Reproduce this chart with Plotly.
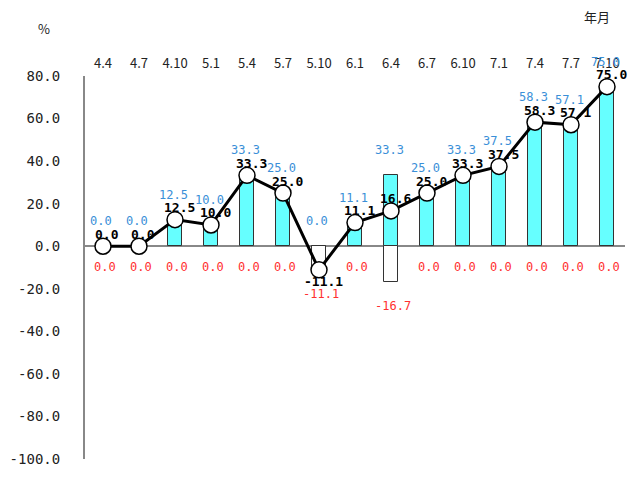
import plotly.graph_objects as go

categories = ["4.4", "4.7", "4.10", "5.1", "5.4", "5.7", "5.10", "6.1", "6.4", "6.7", "6.10", "7.1", "7.4", "7.7", "7.10"]
positive_vals = [0.0, 0.0, 12.5, 10.0, 33.3, 25.0, 0.0, 11.1, 33.3, 25.0, 33.3, 37.5, 58.3, 57.1, 75.0]
negative_vals = [0.0, 0.0, 0.0, 0.0, 0.0, 0.0, -11.1, 0.0, -16.7, 0.0, 0.0, 0.0, 0.0, 0.0, 0.0]
line_vals = [0.0, 0.0, 12.5, 10.0, 33.3, 25.0, -11.1, 11.1, 16.6, 25.0, 33.3, 37.5, 58.3, 57.1, 75.0]
y_ticks = [80, 60, 40, 20, 0, -20, -40, -60, -80, -100]

x = list(range(len(categories)))
FONT = "Noto Sans CJK JP"
MONO = "DejaVu Sans Mono"

fig = go.Figure()
fig.add_trace(go.Bar(x=x, y=positive_vals, width=0.4,
                     marker=dict(color="#66ffff", line=dict(color="#333333", width=1))))
fig.add_trace(go.Bar(x=x, y=negative_vals, width=0.4,
                     marker=dict(color="#ffffff", line=dict(color="#333333", width=1))))
fig.add_trace(go.Scatter(x=x, y=line_vals, mode="lines+markers",
                         line=dict(color="#000000", width=3),
                         marker=dict(size=16, color="#ffffff", line=dict(color="#000000", width=1.5))))

ann = []
for i in x:
    ann.append(dict(x=i, y=positive_vals[i], text=f"{positive_vals[i]:.1f}", showarrow=False,
                    yshift=25, xshift=-2, font=dict(color="#3a8fd8", size=12, family=MONO)))
    ann.append(dict(x=i, y=negative_vals[i], text=f"{negative_vals[i]:.1f}", showarrow=False,
                    yshift=-21 if negative_vals[i] == 0 else -24, xshift=2,
                    font=dict(color="#ff3030", size=12, family=MONO)))
    v = line_vals[i]
    ann.append(dict(x=i, y=v, text=f"<b>{v:.1f}</b>", showarrow=False,
                    yshift=12 if v >= 0 else -12, xshift=4,
                    font=dict(color="#000000", size=13, family=MONO)))
ann.append(dict(xref="paper", yref="paper", x=-0.09, y=1.155, text="%", showarrow=False,
                font=dict(size=13, color="#222222", family=FONT)))
ann.append(dict(xref="paper", yref="paper", x=0.975, y=1.185, text="年月", showarrow=False,
                font=dict(size=13, color="#222222", family=FONT)))

fig.update_layout(
    width=635, height=477,
    margin=dict(l=83, r=10, t=76, b=18),
    plot_bgcolor="#ffffff", paper_bgcolor="#ffffff",
    barmode="relative", bargap=0, showlegend=False,
    annotations=ann,
    xaxis=dict(range=[-0.5, 14.5], tickvals=x, ticktext=categories, side="top",
               showline=False, showgrid=False, zeroline=False, ticks="",
               tickfont=dict(size=13, color="#222222", family=FONT), ticklabelstandoff=4),
    yaxis=dict(range=[-100, 80], tickvals=y_ticks, ticktext=[f"{t:.1f}" for t in y_ticks],
               showline=True, linecolor="#888888", linewidth=2, showgrid=False,
               zeroline=True, zerolinecolor="#888888", zerolinewidth=2, ticks="",
               ticklabelstandoff=20,
               tickfont=dict(size=14, color="#222222", family=MONO)),
)
fig.write_html("out.html")
